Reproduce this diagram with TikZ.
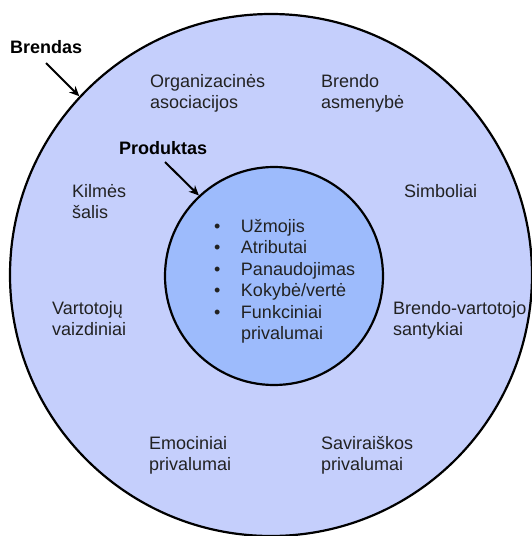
\documentclass[tikz,border=0pt]{standalone}
\usepackage{fontspec}
\setmainfont{Liberation Sans}
\usetikzlibrary{arrows.meta}
\definecolor{outerfill}{RGB}{197,207,252}
\definecolor{innerfill}{RGB}{157,187,252}
\definecolor{txt}{RGB}{34,34,34}
\begin{document}
\begin{tikzpicture}[x=1pt,y=-1pt,
  lbl/.style={anchor=base west, align=left, inner sep=0pt, font=\fontsize{18}{21.5}\selectfont, text=txt},
  ttl/.style={anchor=base west, inner sep=0pt, font=\fontsize{18}{21.5}\selectfont\bfseries, text=black},
  pointer/.style={-{Stealth[length=10pt,width=9pt]}, line width=2pt},
  ring/.style={circle, draw=black, line width=2.2pt, inner sep=0pt}]
\useasboundingbox (0,0) rectangle (531,536);
\node[ring, fill=outerfill, minimum size=522pt] (outer) at (271,275) {};
\node[ring, fill=innerfill, minimum size=218pt] (inner) at (274,276) {};
% multi-line nodes: base anchor is the baseline of the last line
\node[lbl] (org) at (150,108.5) {Organizacinės\\asociacijos};
\node[lbl] (asm) at (321,108.5) {Brendo\\asmenybė};
\node[lbl] (kil) at (72,218.5) {Kilmės\\šalis};
\node[lbl] (sim) at (404,197) {Simboliai};
\node[lbl] (vart) at (52,335.5) {Vartotojų\\vaizdiniai};
\node[lbl] (sant) at (393,335.5) {Brendo-vartotojo\\santykiai};
\node[lbl] (emo) at (149,470.5) {Emociniai\\privalumai};
\node[lbl] (sav) at (321,470.5) {Saviraiškos\\privalumai};
\node[ttl] (brendas) at (10,53) {Brendas};
\node[ttl] (produktas) at (119,154) {Produktas};
\node[lbl] (list) at (214,232) {\begin{tabular}[t]{@{}l@{\hspace{20.5pt}}l@{}}
• & Užmojis\\
• & Atributai\\
• & Panaudojimas\\
• & Kokybė/vertė\\
• & Funkciniai\\
  & privalumai
\end{tabular}};
\coordinate (bA) at (46,63);
\coordinate (pA) at (165,162);
\draw[pointer] (bA) -- (outer.137);
\draw[pointer] (pA) -- (inner.133);
\end{tikzpicture}
\end{document}
